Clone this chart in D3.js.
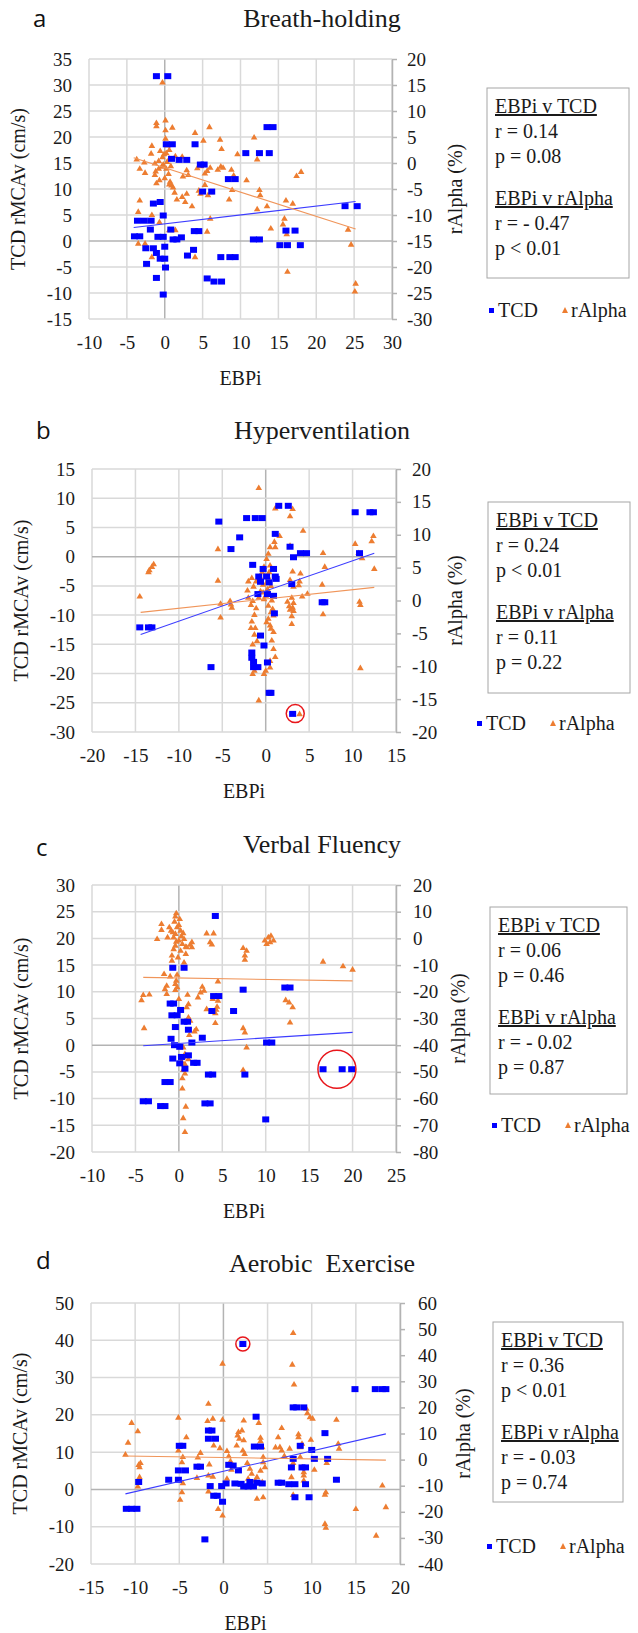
<!DOCTYPE html>
<html>
<head>
<meta charset="utf-8">
<script src="https://cdn.jsdelivr.net/npm/d3@7"></script>
<style>
  body { margin: 0; background: #fff; }
</style>
</head>
<body>
<script>
// ---- data : [EBPi, value]  (TCD on left axis, rAlpha on right axis) ----
var titles = ["Breath-holding", "Hyperventilation", "Verbal Fluency", "Aerobic  Exercise"];
var letters = ["a", "b", "c", "d"];

var aTcd = [[-1.1,31.7],[0.4,31.7],[0.2,18.6],[1.0,18.6],[4.0,18.6],[13.5,21.9],[14.3,21.9],
  [10.7,16.9],[12.5,16.9],[13.8,16.9],[0.9,15.8],[1.9,15.6],[2.9,15.6],[4.7,14.7],[5.2,14.7],
  [5.0,9.5],[6.2,9.5],[8.4,11.9],[9.3,11.9],[-1.5,7.2],[-0.6,7.5],[-0.2,4.9],[-3.6,3.9],[-2.7,3.9],
  [-1.8,3.9],[-1.9,2.2],[-4.0,0.9],[-3.3,0.9],[-0.9,0.8],[-0.2,0.8],[1.1,0.3],[1.6,0.3],[2.2,0.7],
  [0.8,2.2],[3.9,1.9],[4.5,1.9],[11.7,0.3],[12.5,0.3],[15.2,-0.8],[16.2,-0.8],[17.9,-0.8],
  [16.0,2.0],[17.2,2.0],[23.8,6.7],[25.4,6.7],[-2.5,-1.4],[-1.5,-1.4],[0.0,-1.1],[-1.1,-2.3],
  [0.0,-3.4],[-0.6,-3.4],[3.0,-2.8],[3.8,-1.7],[-2.4,-4.4],[0.1,-5.1],[-1.1,-7.1],[5.6,-7.2],
  [6.5,-7.8],[7.5,-7.8],[-0.2,-10.3],[7.4,-3.1],[8.6,-3.1],[9.3,-3.1]];
var aAlpha = [[-0.3,15.6],[0.1,8.3],[-1.1,7.8],[-1.1,7.2],[0.1,6.4],[1.0,6.9],[5.9,7.0],[4.0,5.9],
  [5.1,4.4],[7.3,4.6],[11.8,5.0],[-1.7,3.4],[0.1,4.8],[7.5,2.8],[9.6,1.8],[12.2,0.8],[2.3,1.3],
  [-3.7,0.8],[-2.7,0.2],[-1.8,1.9],[-1.3,0.0],[-3.3,-1.0],[-2.6,-1.8],[-0.8,0.5],[-0.3,1.2],
  [0.2,2.0],[0.6,2.6],[0.4,3.5],[-0.1,1.8],[0.3,0.3],[0.8,-0.5],[-0.8,-1.0],[-1.2,-1.5],[0.2,-1.0],
  [0.5,-2.0],[0.0,-2.8],[0.7,-3.5],[0.9,-4.2],[-0.4,-0.6],[0.6,0.9],[1.4,1.4],[-0.6,2.4],[-0.2,-0.2],
  [-1.1,-3.8],[-0.7,-3.2],[-1.3,-2.2],[3.1,-2.2],[2.9,-1.3],[2.4,-2.5],[4.3,-0.9],[4.8,-0.5],[5.3,-1.9],
  [6.0,-0.8],[5.6,-1.4],[7.0,-1.2],[7.4,-0.6],[7.7,-0.8],[8.8,-1.2],[9.1,-2.3],[10.8,-3.2],[8.9,-5.1],
  [12.5,-5.1],[12.6,-6.1],[2.7,-7.4],[2.3,-6.4],[3.6,-8.2],[4.7,-5.8],[4.5,-5.2],[5.3,-4.1],
  [5.7,-6.1],[6.1,-5.5],[1.6,-6.9],[1.1,-4.6],[1.3,-5.6],[0.6,-4.0],[6.0,-10.6],[8.5,-6.9],[12.2,-8.8],
  [13.5,-8.2],[16.0,-7.1],[16.9,-7.7],[15.8,-10.6],[15.6,-11.7],[14.0,-12.5],[16.1,-13.6],
  [17.4,-2.4],[18.0,-1.6],[16.2,-20.8],[24.2,-12.7],[24.6,-15.6],[25.2,-23.1],[25.1,-24.6],
  [-3.3,-7.1],[-3.5,-9.3],[-2.6,-15.4],[-1.7,-9.9],[-0.7,-11.3],[0.6,-12.8],[1.4,-12.8],
  [-3.5,-15.4],[-1.7,-18.0],[4.0,-18.0],[5.6,-13.1],[2.9,-5.8]];

var bTcd = [[-14.5,-12.1],[-13.5,-12.1],[-13.1,-12.1],[-5.4,6.0],[-4.0,1.3],[-3.0,3.3],[-2.2,6.6],
  [-1.2,6.6],[-0.4,6.6],[1.5,8.7],[2.6,8.7],[1.1,3.9],[2.8,1.7],[3.2,-0.1],[4.0,0.6],[4.7,0.6],
  [10.3,7.6],[12.0,7.6],[12.4,7.6],[10.8,0.6],[6.5,-7.8],[6.8,-7.8],[3.0,-4.7],[-1.5,-1.4],
  [-0.3,-2.1],[0.9,-2.1],[-0.8,-3.4],[0.1,-3.4],[1.1,-3.4],[-0.6,-4.3],[0.4,-4.4],[1.2,-3.8],
  [-0.9,-6.4],[0.2,-6.4],[0.9,-6.7],[1.0,-9.7],[-0.6,-13.5],[-0.2,-15.2],[-1.6,-16.4],[-1.6,-17.3],
  [-1.4,-18.0],[-1.4,-18.9],[-0.9,-18.9],[0.2,-18.1],[-6.3,-18.9],[0.4,-23.3],[0.6,-23.3],[3.1,-26.9]];
var bAlpha = [[-0.8,17.2],[1.1,14.1],[3.1,14.0],[2.8,12.9],[4.3,10.7],[1.6,9.9],[1.0,9.0],[1.1,8.2],
  [0.5,8.2],[0.3,7.2],[0.1,6.4],[-0.2,5.2],[-0.4,4.4],[2.8,8.4],[-5.5,7.9],[-12.9,5.6],[-13.1,5.2],
  [-13.4,4.7],[-13.5,4.4],[-14.5,0.7],[-5.5,3.1],[-5.2,-0.4],[-5.2,-2.5],[-4.1,0.0],[-4.0,-0.5],
  [-3.9,-1.0],[-2.0,3.0],[-2.1,1.6],[10.3,8.7],[10.7,7.3],[12.4,9.9],[12.2,9.1],[12.5,4.9],[11.1,6.5],
  [10.8,-0.1],[10.9,-0.6],[10.9,-10.2],[6.6,7.3],[6.8,5.2],[6.5,2.5],[6.6,-2.0],[4.8,1.1],[4.2,0.7],
  [4.0,4.2],[3.9,3.0],[3.8,2.4],[3.1,4.5],[2.8,3.2],[3.2,2.2],[3.0,0.5],[3.2,-0.3],[3.1,-1.0],
  [3.2,-1.5],[3.0,-2.3],[3.0,-3.5],[2.5,-0.1],[2.7,-0.8],[2.8,-1.3],[0.5,5.4],[0.4,4.4],[0.3,3.6],
  [0.1,2.8],[0.6,2.3],[0.2,1.8],[-0.3,1.3],[0.0,0.8],[-0.2,0.3],[0.7,0.1],[0.3,-0.7],[0.8,-1.2],
  [0.6,-1.7],[0.9,-2.2],[0.3,-2.7],[0.1,-3.2],[0.5,-3.7],[0.6,-4.2],[0.9,-4.7],[0.7,-6.0],[0.9,-7.3],
  [1.1,-8.5],[0.5,-9.1],[0.5,-10.1],[0.0,-10.6],[-0.2,-11.1],[-1.5,-11.1],[-1.3,-10.6],[-0.8,-15.1],
  [-1.3,-5.1],[-1.5,-6.6],[-1.0,-6.1],[-1.2,-4.1],[-1.7,-4.1],[-1.6,-3.1],[-1.3,-2.1],[-1.1,-1.1],
  [-1.7,-0.6],[-2.0,0.5],[-1.5,0.0],[-0.8,0.5],[-0.6,1.5],[-1.1,3.0],[-0.6,3.5],[-1.6,3.5],[-1.4,2.2],
  [-0.3,2.5],[3.9,-17.2]];

var cTcd = [[4.2,24.2],[-0.7,14.5],[0.6,14.5],[4.0,9.2],[4.6,9.2],[7.4,10.4],[12.2,10.8],[12.8,10.8],
  [6.3,6.4],[3.8,6.4],[-1.0,7.8],[-0.6,7.8],[-0.8,5.6],[-0.2,5.6],[0.2,6.6],[-0.4,3.4],[0.6,4.4],
  [1.0,4.4],[1.1,2.9],[2.7,1.4],[1.5,0.5],[-0.9,1.2],[-0.5,0.0],[0.1,-0.3],[10.1,0.5],[10.7,0.5],
  [-0.7,-2.5],[0.3,-2.2],[1.1,-1.9],[1.7,-3.3],[2.1,-3.3],[0.1,-3.4],[0.7,-4.4],[16.6,-4.5],
  [18.8,-4.5],[19.9,-4.5],[3.4,-5.5],[3.9,-5.5],[7.6,-5.5],[-1.6,-6.9],[-1.0,-6.9],[-4.1,-10.5],
  [-3.5,-10.5],[-2.1,-11.4],[-1.6,-11.4],[3.0,-10.9],[3.6,-10.9],[10.0,-13.9]];
var cAlpha = [[-0.3,9.6],[-0.4,8.4],[0.1,7.5],[-0.5,6.5],[0.0,5.2],[-0.2,4.4],[0.2,3.1],[-0.4,1.9],
  [-0.6,0.6],[0.0,-0.6],[0.6,0.0],[0.4,-1.9],[-0.4,-2.5],[-0.6,-3.8],[0.2,-4.4],[0.8,-5.6],[-0.1,-6.9],
  [0.6,-8.8],[-0.3,-1.0],[0.3,1.0],[0.5,2.2],[-0.7,2.5],[0.8,-2.9],[-2.0,5.6],[-2.0,3.4],[-2.5,0.0],
  [-1.3,0.6],[-0.9,3.1],[-1.1,4.4],[1.5,-1.2],[1.5,-3.1],[1.3,-2.2],[0.9,-3.1],[-0.8,-6.2],[-0.8,-8.1],
  [-1.7,-13.1],[-1.4,-17.5],[-1.6,-18.8],[-0.3,-15.6],[-0.4,-16.9],[-0.2,-18.1],[-0.4,-19.1],
  [-1.4,-20.6],[-4.1,-21.0],[-4.3,-22.9],[-3.4,-20.8],[-4.0,-33.4],[3.2,2.1],[4.0,2.1],[3.6,-1.2],
  [3.8,-2.1],[7.4,-3.4],[7.8,-4.4],[7.6,-6.2],[7.6,-7.8],[9.9,-0.6],[10.3,0.6],[10.5,-1.2],[10.9,-0.6],
  [10.1,-1.9],[10.6,1.2],[16.6,-8.5],[18.9,-10.2],[20.0,-11.5],[4.5,-15.9],[2.7,-17.9],[2.9,-19.4],
  [2.5,-20.0],[2.2,-21.9],[3.9,-22.5],[4.5,-23.1],[4.4,-25.4],[4.3,-26.5],[4.2,-27.8],[3.2,-26.3],
  [4.2,-31.5],[1.0,-20.9],[1.1,-24.4],[0.9,-25.6],[1.1,-29.4],[1.3,-30.6],[1.8,-34.6],[2.0,-33.8],
  [12.3,-22.9],[12.7,-23.8],[13.1,-25.6],[12.8,-31.3],[7.4,-33.4],[7.6,-35.0],[7.8,-40.6],[7.4,-49.1],
  [0.5,-40.6],[0.7,-43.1],[0.5,-44.4],[0.3,-45.9],[0.7,-46.9],[1.1,-45.0],[0.5,-49.1],[0.7,-50.4],
  [0.4,-52.2],[0.4,-56.0],[0.8,-62.8],[0.5,-67.1],[0.7,-72.3],[0.0,-22.5],[-0.2,-13.4],[-1.0,-14.0],
  [1.2,-36.0]];

var dTcd = [[2.2,39.0],[14.9,26.9],[17.2,26.9],[18.0,26.9],[18.4,26.9],[7.9,22.0],[8.3,22.0],[9.1,22.0],
  [3.7,19.5],[11.5,15.1],[-1.7,15.8],[-1.3,15.8],[-1.7,13.6],[-0.9,13.6],[-5.0,11.7],[-4.6,11.7],
  [3.5,11.5],[4.2,11.5],[8.7,11.7],[10.0,10.6],[7.9,8.2],[10.3,8.2],[11.8,8.2],[-5.1,5.1],[-4.3,5.1],
  [-3.0,6.1],[-2.6,6.1],[0.6,6.6],[1.1,6.4],[7.7,5.9],[8.9,5.9],[9.3,5.9],[1.7,5.1],[12.8,2.6],
  [-6.2,2.6],[-5.1,2.6],[-9.6,2.0],[-1.5,0.9],[-0.2,0.9],[0.3,1.6],[1.3,1.6],[2.3,0.8],[2.8,0.8],
  [3.4,0.8],[3.8,1.8],[4.4,1.6],[6.2,1.8],[6.6,1.8],[7.4,1.4],[8.1,1.4],[9.3,1.4],[2.0,1.5],[3.0,2.0],
  [-1.1,-1.7],[-0.7,-1.7],[-0.1,-3.3],[8.1,-2.1],[9.7,-2.1],[-11.0,-5.2],[-10.4,-5.2],[-9.8,-5.2],
  [-2.1,-13.4]];
var dAlpha = [[7.9,48.7],[7.8,36.6],[8.0,29.0],[-0.1,37.0],[-1.7,21.6],[-10.4,14.3],[-9.7,11.1],
  [-10.8,6.7],[-11.1,2.1],[-9.5,-2.7],[-9.6,-1.8],[-9.4,-1.1],[-9.5,-6.5],[-9.7,-10.1],[-4.2,8.8],
  [-5.1,3.7],[-4.6,1.2],[-4.7,-0.8],[-4.6,-8.8],[-4.7,-12.3],[-4.9,-15.2],[-2.6,2.8],[-3.0,-6.8],
  [-1.6,11.4],[-1.1,5.6],[-1.6,-1.6],[-1.7,-5.9],[-1.2,-6.3],[-1.7,-12.0],[-0.6,-18.7],[-0.1,-21.2],
  [0.4,3.5],[0.6,1.5],[0.8,-0.4],[0.9,-3.7],[0.4,-7.1],[1.5,5.6],[1.8,8.2],[1.7,10.8],[1.6,9.5],
  [2.1,11.4],[2.3,7.6],[2.2,3.7],[2.4,2.4],[2.7,-1.1],[3.0,-3.3],[3.2,-5.2],[2.8,-7.1],[3.0,-8.8],
  [2.7,-9.7],[3.8,-14.8],[4.5,-14.2],[4.0,14.3],[4.2,8.6],[4.2,7.3],[4.4,5.0],[4.5,1.2],[4.5,-0.8],
  [4.7,-2.7],[4.2,-4.0],[3.8,-6.5],[3.6,-7.8],[4.4,-8.4],[6.2,8.8],[6.4,5.0],[6.6,12.3],[6.6,3.7],
  [7.5,4.4],[7.9,-1.1],[7.7,-6.5],[7.9,-13.3],[8.5,9.9],[8.5,8.8],[8.7,5.0],[8.9,6.3],[8.7,1.2],
  [8.9,-2.7],[9.1,-4.6],[9.1,-7.8],[9.1,-5.9],[9.9,7.8],[10.3,-3.7],[11.5,-13.2],[11.6,-12.3],
  [11.7,-1.1],[11.5,-24.4],[11.6,-25.9],[12.8,15.5],[13.0,6.3],[13.1,4.4],[15.0,-18.7],[17.3,-28.9],
  [18.0,-9.7],[18.4,-18.0],[-5.1,16.3],[-1.8,15.0],[-1.2,15.9],[-0.1,15.5],[2.3,15.2],[9.4,19.7],
  [9.5,18.0],[9.8,16.5],[10.1,15.9],[-2.9,1.0],[-0.4,4.6],[5.9,4.9],[6.9,1.6]];

// trendlines : [x1, y1, x2, y2]
var aTrend = [[-4.1, 2.6, 25.2, 7.6], [-4.1, 1.0, 25.2, -12.7]];
var bTrend = [[-14.4, -13.3, 12.5, 0.6], [-14.4, -1.8, 12.5, 2.0]];
var cTrend = [[-4.1, -0.1, 20.0, 2.4], [-4.1, -14.6, 20.0, -15.9]];
var dTrend = [[-11.1, -1.2, 18.4, 14.9], [-11.1, 1.4, 18.4, -0.2]];

// circled outliers : [EBPi, TCD, radius]
var bCircle = [3.4, -26.85, 9];
var cCircle = [18.2, -4.5, 19];
var dCircle = [2.2, 39.0, 7];

// stats text
var aStats = ["r = 0.14", "p = 0.08", "r = - 0.47", "p < 0.01"];
var bStats = ["r = 0.24", "p < 0.01", "r = 0.11", "p = 0.22"];
var cStats = ["r = 0.06", "p = 0.46", "r = - 0.02", "p = 0.87"];
var dStats = ["r = 0.36", "p < 0.01", "r = - 0.03", "p = 0.74"];

// axis domains + steps
var aX = [-10, 30, 5], aL = [-15, 35, 5], aR = [-30, 20, 5];
var bX = [-20, 15, 5], bL = [-30, 15, 5], bR = [-20, 20, 5];
var cX = [-10, 25, 5], cL = [-20, 30, 5], cR = [-80, 20, 10];
var dX = [-15, 20, 5], dL = [-20, 50, 10], dR = [-40, 60, 10];

var BLUE = "#0000ff", ORANGE = "#ed7d31";
var SERIF = "'Liberation Serif', 'Times New Roman', serif";
var INK = "#1a1a1a";

var svg = d3.select("body").append("svg")
  .attr("width", 638).attr("height", 1633);

function ticks_of(ax) {
  return d3.range(ax[0], ax[1] + 0.001, ax[2]);
}
// Excel style labels use a plain hyphen, not the unicode minus d3 gives
function plain(d) { return String(d); }

// plain serif label
function label(g, txt, size) {
  return g.append("text").style("font-family", SERIF).style("fill", INK)
    .attr("font-size", size).text(txt);
}

function draw_panel(p) {
  var g = svg.append("g");
  var x = d3.scaleLinear().domain([p.xAx[0], p.xAx[1]]).range([p.left, p.right]);
  var yL = d3.scaleLinear().domain([p.lAx[0], p.lAx[1]]).range([p.bottom, p.top]);
  var yR = d3.scaleLinear().domain([p.rAx[0], p.rAx[1]]).range([p.bottom, p.top]);

  // grid
  g.append("g").selectAll("line").data(ticks_of(p.xAx)).enter().append("line")
    .attr("x1", function(d) { return x(d); }).attr("x2", function(d) { return x(d); })
    .attr("y1", p.top).attr("y2", p.bottom)
    .attr("stroke", function(d) { return d === 0 ? "#b3b3b3" : "#d9d9d9"; })
    .attr("stroke-width", 1.5);
  g.append("g").selectAll("line").data(ticks_of(p.lAx)).enter().append("line")
    .attr("y1", function(d) { return yL(d); }).attr("y2", function(d) { return yL(d); })
    .attr("x1", p.left).attr("x2", p.right)
    .attr("stroke", function(d) { return d === 0 ? "#b3b3b3" : "#d9d9d9"; })
    .attr("stroke-width", 1.5);

  // left axis labels
  var la = g.append("g").attr("transform", "translate(" + p.left + ",0)")
    .call(d3.axisLeft(yL).tickValues(ticks_of(p.lAx)).tickFormat(plain).tickSize(0).tickPadding(17));
  la.select(".domain").remove();

  // bottom axis labels
  var ba = g.append("g").attr("transform", "translate(0," + p.bottom + ")")
    .call(d3.axisBottom(x).tickValues(ticks_of(p.xAx)).tickFormat(plain).tickSize(0).tickPadding(17));
  ba.select(".domain").remove();

  // right axis
  var ra = g.append("g").attr("transform", "translate(" + p.right + ",0)")
    .call(d3.axisRight(yR).tickValues(ticks_of(p.rAx)).tickFormat(plain)
      .tickSize(5).tickSizeOuter(0).tickPadding(p.rPad));
  ra.select(".domain").attr("stroke", "#b3b3b3").attr("stroke-width", 1.5);
  ra.selectAll(".tick line").attr("stroke", "#b3b3b3").attr("stroke-width", 1.5);

  [la, ba, ra].forEach(function(a) {
    a.attr("font-family", null).attr("font-size", null);
    a.selectAll(".tick text").style("font-family", SERIF).style("font-size", "19px").style("fill", INK);
  });

  // series
  g.append("g").selectAll("path").data(p.alpha).enter().append("path")
    .attr("d", function(d) {
      var cx = x(d[0]), cy = yR(d[1]);
      return "M" + cx + "," + (cy - 3) + "L" + (cx + 3.3) + "," + (cy + 2.6) + "L" + (cx - 3.3) + "," + (cy + 2.6) + "Z";
    })
    .attr("fill", ORANGE);
  g.append("g").selectAll("rect").data(p.tcd).enter().append("rect")
    .attr("x", function(d) { return x(d[0]) - 3.5; })
    .attr("y", function(d) { return yL(d[1]) - 3; })
    .attr("width", 7).attr("height", 6)
    .attr("fill", BLUE);

  // trendlines
  g.append("line")
    .attr("x1", x(p.trend[0][0])).attr("y1", yL(p.trend[0][1]))
    .attr("x2", x(p.trend[0][2])).attr("y2", yL(p.trend[0][3]))
    .attr("stroke", "#3c3cff").attr("stroke-width", 1.1);
  g.append("line")
    .attr("x1", x(p.trend[1][0])).attr("y1", yR(p.trend[1][1]))
    .attr("x2", x(p.trend[1][2])).attr("y2", yR(p.trend[1][3]))
    .attr("stroke", "#f0955a").attr("stroke-width", 1.1);

  if (p.circle) {
    g.append("circle")
      .attr("cx", x(p.circle[0])).attr("cy", yL(p.circle[1])).attr("r", p.circle[2])
      .attr("fill", "none").attr("stroke", "#e8161b").attr("stroke-width", 1.5);
  }

  // titles and axis names
  label(g, p.title, 26).attr("x", 322).attr("y", p.titleY)
    .attr("text-anchor", "middle").style("white-space", "pre");
  g.append("text").attr("x", p.letterX).attr("y", p.letterY)
    .style("font-family", "'Open Sans', 'Noto Sans', sans-serif").style("fill", "#111")
    .attr("font-size", 24).text(p.letter);
  label(g, "EBPi", 20).attr("x", (p.left + p.right) / 2).attr("y", p.bottom + 66)
    .attr("text-anchor", "middle");
  label(g, "TCD rMCAv (cm/s)", 20)
    .attr("transform", "translate(" + (p.yTitleX + 7) + "," + ((p.top + p.bottom) / 2) + ") rotate(-90)")
    .attr("text-anchor", "middle");
  label(g, "rAlpha (%)", 20)
    .attr("transform", "translate(" + (p.rTitleX + 7) + "," + ((p.top + p.bottom) / 2) + ") rotate(-90)")
    .attr("text-anchor", "middle");

  // stats box
  g.append("rect").attr("x", p.box[0]).attr("y", p.box[1])
    .attr("width", p.box[2]).attr("height", p.box[3])
    .attr("fill", "#fff").attr("stroke", "#a6a6a6").attr("stroke-width", 1);
  var lines = ["EBPi v TCD", p.stats[0], p.stats[1], "EBPi v rAlpha", p.stats[2], p.stats[3]];
  var offs = [25, 50, 75, 117, 142, 167];
  g.append("g").selectAll("text").data(lines).enter().append("text")
    .attr("x", p.box[0] + 8)
    .attr("y", function(d, i) { return p.box[1] + offs[i]; })
    .attr("font-size", 20)
    .style("font-family", SERIF).style("fill", INK)
    .style("text-decoration", function(d, i) { return (i === 0 || i === 3) ? "underline" : null; })
    .text(function(d) { return d; });

  // legend
  var lx = p.legend[0], ly = p.legend[1];
  g.append("rect").attr("x", lx).attr("y", ly - 9).attr("width", 5).attr("height", 5).attr("fill", BLUE);
  label(g, "TCD", 20).attr("x", lx + 9).attr("y", ly);
  var tx = lx + 76;
  g.append("path")
    .attr("d", "M" + tx + "," + (ly - 10) + "L" + (tx + 3) + "," + (ly - 4) + "L" + (tx - 3) + "," + (ly - 4) + "Z")
    .attr("fill", ORANGE);
  label(g, "rAlpha", 20).attr("x", tx + 6).attr("y", ly);
}

var panels = [
  {title: titles[0], letter: letters[0], xAx: aX, lAx: aL, rAx: aR, tcd: aTcd, alpha: aAlpha, trend: aTrend,
   stats: aStats, circle: null, left: 89, right: 392, top: 59, bottom: 319, titleY: 27, letterX: 33, letterY: 27,
   yTitleX: 18, rTitleX: 455, rPad: 10, box: [487, 88, 142, 190], legend: [489, 317]},
  {title: titles[1], letter: letters[1], xAx: bX, lAx: bL, rAx: bR, tcd: bTcd, alpha: bAlpha, trend: bTrend,
   stats: bStats, circle: bCircle, left: 92, right: 396, top: 469, bottom: 732, titleY: 439, letterX: 36, letterY: 439,
   yTitleX: 21, rTitleX: 455, rPad: 11, box: [488, 502, 142, 191], legend: [477, 730]},
  {title: titles[2], letter: letters[2], xAx: cX, lAx: cL, rAx: cR, tcd: cTcd, alpha: cAlpha, trend: cTrend,
   stats: cStats, circle: cCircle, left: 92, right: 396, top: 885, bottom: 1152, titleY: 853, letterX: 36, letterY: 856,
   yTitleX: 21, rTitleX: 458, rPad: 12, box: [490, 907, 137, 187], legend: [492, 1132]},
  {title: titles[3], letter: letters[3], xAx: dX, lAx: dL, rAx: dR, tcd: dTcd, alpha: dAlpha, trend: dTrend,
   stats: dStats, circle: dCircle, left: 91, right: 400, top: 1303, bottom: 1564, titleY: 1272, letterX: 36, letterY: 1269,
   yTitleX: 20, rTitleX: 463, rPad: 13, box: [493, 1322, 130, 180], legend: [487, 1553]}
];

panels.forEach(draw_panel);
</script>
</body>
</html>
